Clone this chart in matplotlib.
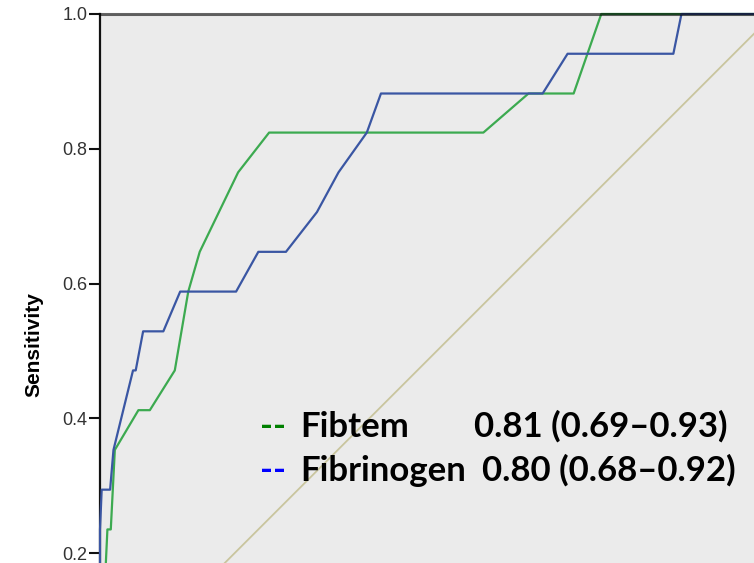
import matplotlib
matplotlib.use("Agg")
import matplotlib.pyplot as plt

# ROC-кривые (1 - специфичность, чувствительность)
fibtem_fpr = [0.0, 0.011, 0.016, 0.022, 0.057, 0.074, 0.111, 0.131, 0.148, 0.205,
              0.251, 0.569, 0.636, 0.703, 0.744, 1.0]
fibtem_tpr = [0.0, 0.235, 0.235, 0.353, 0.412, 0.412, 0.471, 0.588, 0.647, 0.765,
              0.824, 0.824, 0.882, 0.882, 1.0, 1.0]

fibrinogen_fpr = [0.0, 0.0, 0.0025, 0.015, 0.020, 0.049, 0.053, 0.064, 0.094, 0.119,
                  0.202, 0.235, 0.276, 0.322, 0.354, 0.396, 0.417, 0.657, 0.694,
                  0.851, 0.863, 1.0]
fibrinogen_tpr = [0.0, 0.235, 0.294, 0.294, 0.353, 0.471, 0.471, 0.529, 0.529, 0.588,
                  0.588, 0.647, 0.647, 0.706, 0.765, 0.824, 0.882, 0.882, 0.941,
                  0.941, 1.0, 1.0]

ref_line = [0.0, 1.0]
yticks = [0.2, 0.4, 0.6, 0.8, 1.0]

names = ["Fibtem", "Fibrinogen"]
auc_text = ["0.81 (0.69\u20130.93)", "0.80 (0.68\u20130.92)"]
dash_colors = ["#008000", "#0000ff"]

W, H = 754, 563
fig = plt.figure(figsize=(W / 100, H / 100), dpi=100)

# оси больше самой фигуры: картинка обрезана снизу и справа
scale = 673.75
ax = fig.add_axes([100 / W, 1 - 14 / H - scale / H, scale / W, scale / H])
ax.set_facecolor("#ebebeb")
ax.set_xlim(0, 1)
ax.set_ylim(0, 1)

ax.plot(ref_line, ref_line, color="#c9c59e", lw=1.3, zorder=2)
ax.plot(fibtem_fpr, fibtem_tpr, color="#3caa50", lw=1.6, zorder=3, clip_on=False)
ax.plot(fibrinogen_fpr, fibrinogen_tpr, color="#3a56a3", lw=1.6, zorder=3, clip_on=False)

for side in ["right", "bottom"]:
    ax.spines[side].set_visible(False)
ax.spines["left"].set_color("#111111")
ax.spines["left"].set_linewidth(1.6)
ax.spines["top"].set_color("black")
ax.spines["top"].set_alpha(0.6)
ax.spines["top"].set_linewidth(2.2)
ax.spines["top"].set_zorder(5)

ax.set_xticks([])
ax.set_yticks(yticks)
ax.set_yticklabels([f"{v:.1f}" for v in yticks])
ax.tick_params(axis="y", direction="out", length=8, width=1.5, pad=1,
               labelsize=13, labelcolor="#333333", color="#111111")
for lab in ax.get_yticklabels():
    lab.set_family("Liberation Sans")

fig.text(34 / W, 1 - 345 / H, "Sensitivity", rotation=90, ha="center", va="center",
         fontsize=15, fontweight="bold", family="Liberation Sans")

# подписи с AUC
rows_y = [437, 481]
value_x = [474, 482]
for i in range(2):
    y = 1 - rows_y[i] / H
    fig.text(260 / W, y, "--", color=dash_colors[i], fontsize=25,
             fontweight="bold", family="Lato", va="baseline")
    fig.text(300 / W, y, names[i], fontsize=25, fontweight="bold",
             family="Lato", va="baseline")
    fig.text(value_x[i] / W, y, auc_text[i], fontsize=25, fontweight="bold",
             family="Lato", va="baseline")

fig.savefig("out.png", dpi=100)
